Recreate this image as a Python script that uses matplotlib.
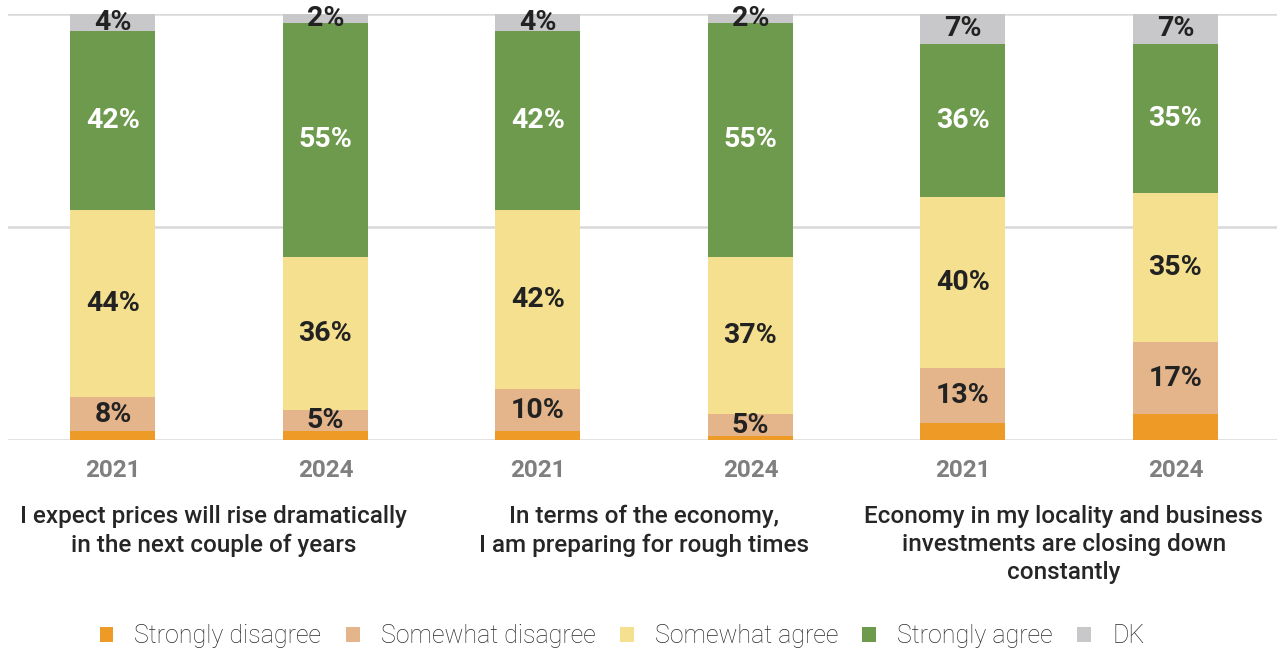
import matplotlib
matplotlib.use("Agg")
import matplotlib.pyplot as plt
from matplotlib.patches import Patch
import numpy as np

plt.rcParams['font.family'] = ['Roboto', 'DejaVu Sans']

years = ["2021", "2024", "2021", "2024", "2021", "2024"]
statements = [
    "I expect prices will rise dramatically\nin the next couple of years",
    "In terms of the economy,\nI am preparing for rough times",
    "Economy in my locality and business\ninvestments are closing down\nconstantly",
]
categories = ["Strongly disagree", "Somewhat disagree", "Somewhat agree", "Strongly agree", "DK"]
strongly_disagree = [2, 2, 2, 1, 4, 6]
somewhat_disagree = [8, 5, 10, 5, 13, 17]
somewhat_agree = [44, 36, 42, 37, 40, 35]
strongly_agree = [42, 55, 42, 55, 36, 35]
dont_know = [4, 2, 4, 2, 7, 7]

series = [strongly_disagree, somewhat_disagree, somewhat_agree, strongly_agree, dont_know]
colors = ["#EE9A26", "#E4B58B", "#F5E08F", "#6E9A4D", "#C8C8CA"]
label_colors = [None, "#222222", "#222222", "#FFFFFF", "#222222"]

fig = plt.figure(figsize=(12.77, 6.52), dpi=100)
ax = fig.add_axes([8 / 1277, 1 - 440 / 652, 1 - 8 / 1277, 426 / 652])

x = np.arange(len(years))
bottom = np.zeros(len(years))
for vals, col, lc in zip(series, colors, label_colors):
    vals = np.array(vals, dtype=float)
    ax.bar(x, vals, width=0.4, bottom=bottom, color=col, zorder=2)
    if lc is not None:
        for xi, b, v in zip(x, bottom, vals):
            ax.text(xi, b + v / 2, f"{int(v)}%", ha="center", va="center",
                    fontsize=20.5, fontweight="bold", color=lc, zorder=3)
    bottom += vals

ax.set_xlim(-0.494, 5.478)
ax.set_ylim(0, 100)
for yv in (0, 50, 100):
    ax.axhline(yv, color="#D9D9D9", lw=1.8, zorder=1)
ax.axis("off")

for xi, yr in zip(x, years):
    ax.text(xi, -7.2, yr, ha="center", va="center", fontsize=17.5,
            fontweight="bold", color="#7F7F7F")

# statement captions sit under each pair of bars
caption_x = [0.475, 2.5, 4.475]
for cx, s in zip(caption_x, statements):
    ax.text(cx, -15.3, s, ha="center", va="top", fontsize=17.5,
            fontweight="medium", color="#262626", linespacing=1.28)

handles = [Patch(facecolor=c, edgecolor="none") for c in colors]
fig.legend(handles, categories, loc="center", bbox_to_anchor=(622 / 1277, 1 - 636 / 652),
           ncol=5, frameon=False, handlelength=0.55, handleheight=0.55,
           handletextpad=0.85, columnspacing=0.97, labelcolor="#2A2A2A",
           prop={"family": "Roboto", "weight": "light", "size": 18})

fig.savefig("out.png", dpi=100)
